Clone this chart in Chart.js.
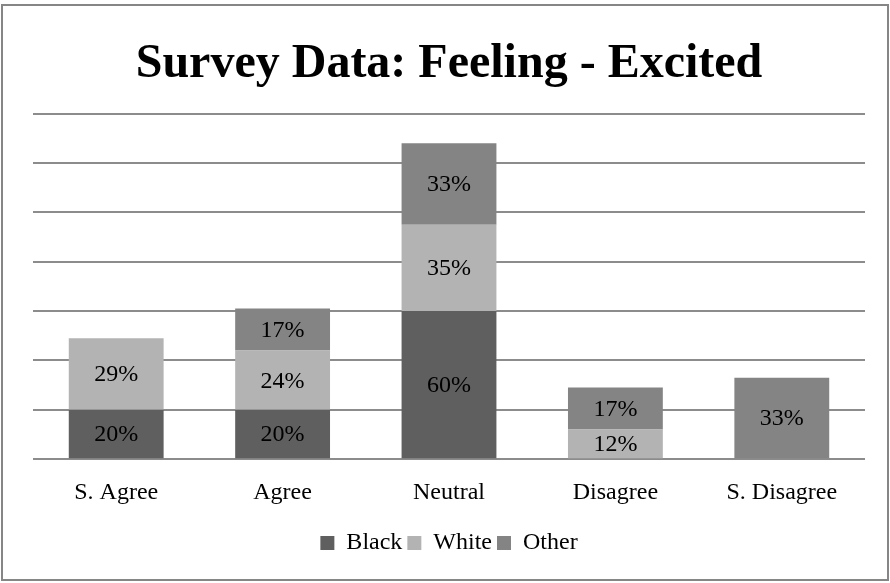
<!DOCTYPE html>
<html>
<head>
<meta charset="utf-8">
<script src="https://cdn.jsdelivr.net/npm/chart.js@4.4.1/dist/chart.umd.min.js"></script>
<style>
html,body{margin:0;padding:0;background:#fff;}
#wrap{position:relative;width:890px;height:583px;}
</style>
</head>
<body>
<div id="wrap"><canvas id="c" width="890" height="583"></canvas></div>
<script>
const categories = ["S. Agree", "Agree", "Neutral", "Disagree", "S. Disagree"];
const blackValues = [20, 20, 60, 0, 0];
const whiteValues = [29, 24, 35, 12, 0];
const otherValues = [0, 17, 33, 17, 33];
const seriesNames = ["Black", "White", "Other"];
const yTicks = [0, 20, 40, 60, 80, 100, 120, 140];

const FONT = "'Liberation Serif', 'Times New Roman', serif";

const borderPlugin = {
  id: 'outerBorder',
  beforeDraw(chart) {
    const ctx = chart.ctx;
    ctx.save();
    ctx.fillStyle = '#fff';
    ctx.fillRect(0, 0, chart.width, chart.height);
    ctx.strokeStyle = '#868686';
    ctx.lineWidth = 2;
    ctx.strokeRect(2, 5, 886, 575);
    ctx.restore();
  }
};

const labelPlugin = {
  id: 'segLabels',
  afterDatasetsDraw(chart) {
    const ctx = chart.ctx;
    ctx.save();
    ctx.font = "24px " + FONT;
    ctx.fillStyle = '#000';
    ctx.textAlign = 'center';
    ctx.textBaseline = 'middle';
    chart.data.datasets.forEach((ds, i) => {
      const meta = chart.getDatasetMeta(i);
      meta.data.forEach((el, j) => {
        const v = ds.data[j];
        if (!v) return;
        const p = el.getProps(['x', 'y', 'base'], true);
        ctx.fillText(v + '%', p.x, (p.y + p.base) / 2 + 1);
      });
    });
    ctx.restore();
  }
};

new Chart(document.getElementById('c'), {
  type: 'bar',
  data: {
    labels: categories,
    datasets: [
      { label: seriesNames[0], data: blackValues, backgroundColor: '#5f5f5f', borderWidth: 0 },
      { label: seriesNames[1], data: whiteValues, backgroundColor: '#b3b3b3', borderWidth: 0 },
      { label: seriesNames[2], data: otherValues, backgroundColor: '#848484', borderWidth: 0 }
    ]
  },
  options: {
    responsive: false,
    animation: false,
    devicePixelRatio: 1,
    layout: { padding: { left: 33, right: 25, top: 0, bottom: 18 } },
    datasets: { bar: { barPercentage: 0.57, categoryPercentage: 1 } },
    scales: {
      x: {
        stacked: true,
        grid: { display: false, drawTicks: false },
        border: { display: false },
        ticks: { color: '#000', font: { family: FONT, size: 24 }, padding: 19 }
      },
      y: {
        stacked: true,
        min: 0, max: 140,
        afterBuildTicks(axis) { axis.ticks = yTicks.map(v => ({ value: v })); },
        grid: { color: '#8c8c8c', lineWidth: 2, drawTicks: false },
        border: { display: false },
        ticks: { display: false }
      }
    },
    plugins: {
      title: {
        display: true,
        text: 'Survey Data: Feeling - Excited',
        color: '#000',
        font: { family: FONT, size: 48, weight: 'bold' },
        padding: { top: 36, bottom: 20 }
      },
      legend: {
        position: 'bottom',
        labels: {
          color: '#000',
          font: { family: FONT, size: 24 },
          boxWidth: 14, boxHeight: 14,
          padding: 5
        }
      },
      tooltip: { enabled: false }
    }
  },
  plugins: [borderPlugin, labelPlugin]
});
</script>
</body>
</html>
